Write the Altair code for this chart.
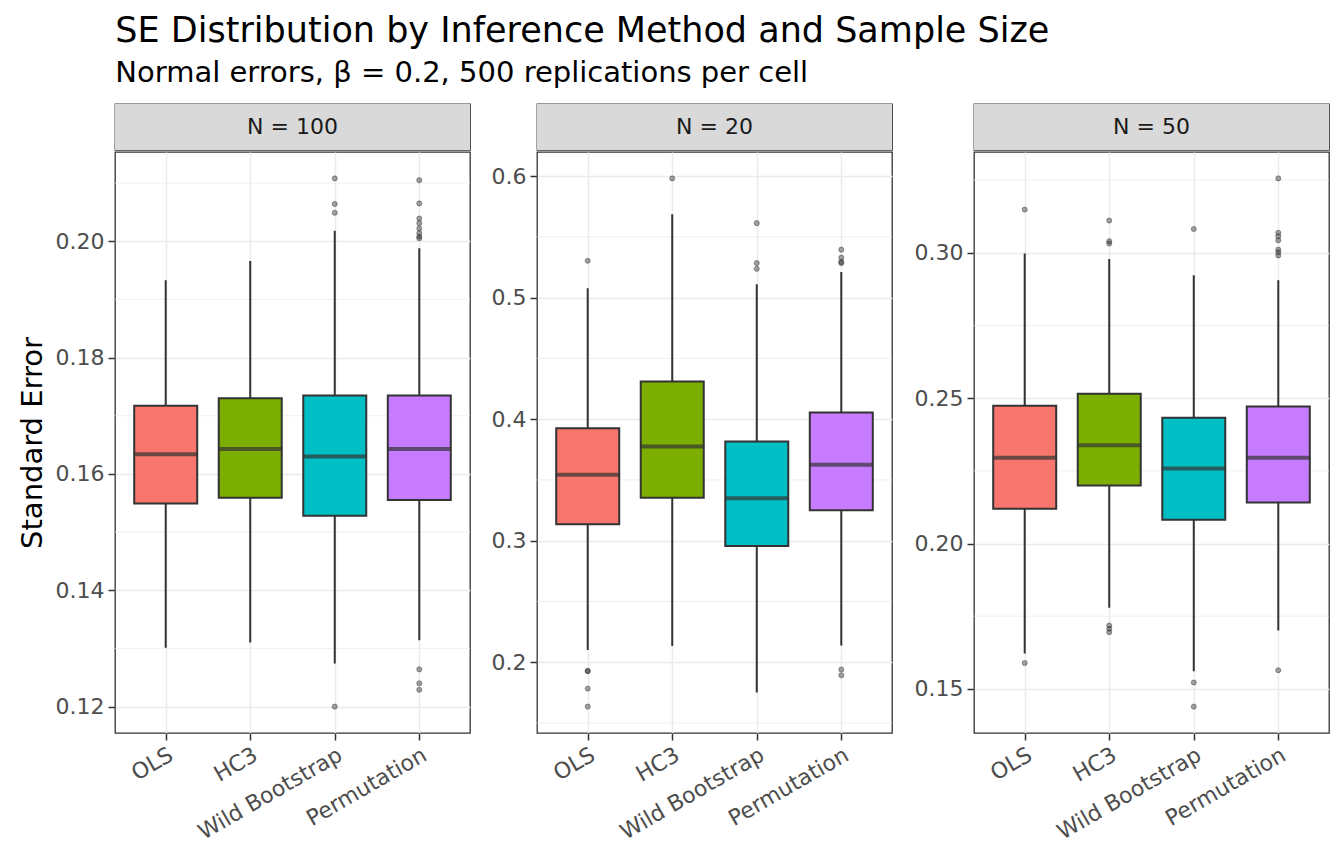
import altair as alt
import pandas as pd

FONT = "DejaVu Sans"

methods = ["OLS", "HC3", "Wild Bootstrap", "Permutation"]
fill_colors = ["#F8766D", "#7CAE00", "#00BFC4", "#C77CFF"]
facet_labels = ["N = 100", "N = 20", "N = 50"]

# ---- N = 100 ----
n100_lower = [0.1301, 0.1310, 0.1274, 0.1314]
n100_q1 = [0.1549, 0.1559, 0.1528, 0.1555]
n100_median = [0.1634, 0.1643, 0.1630, 0.1643]
n100_q3 = [0.1717, 0.1730, 0.1735, 0.1735]
n100_upper = [0.1933, 0.1966, 0.2018, 0.1988]
n100_out_ols = []
n100_out_hc3 = []
n100_out_wild = [0.2108, 0.2064, 0.2049, 0.1200]
n100_out_perm = [0.2105, 0.2065, 0.2039, 0.2031, 0.2022, 0.2014, 0.2008, 0.2005,
                 0.1264, 0.1240, 0.1229]
n100_ticks = [0.12, 0.14, 0.16, 0.18, 0.20]
n100_minor = [0.13, 0.15, 0.17, 0.19, 0.21]

# ---- N = 20 ----
n20_lower = [0.2101, 0.2134, 0.1751, 0.2137]
n20_q1 = [0.3136, 0.3354, 0.2957, 0.3250]
n20_median = [0.3542, 0.3775, 0.3350, 0.3624]
n20_q3 = [0.3926, 0.4310, 0.3817, 0.4055]
n20_upper = [0.5078, 0.5687, 0.5111, 0.5210]
n20_out_ols = [0.5303, 0.1926, 0.1930, 0.1783, 0.1635]
n20_out_hc3 = [0.5981]
n20_out_wild = [0.5613, 0.5284, 0.5237]
n20_out_perm = [0.5395, 0.5329, 0.5294, 0.5284, 0.1940, 0.1893]
n20_ticks = [0.2, 0.3, 0.4, 0.5, 0.6]
n20_minor = [0.15, 0.25, 0.35, 0.45, 0.55]

# ---- N = 50 ----
n50_lower = [0.1622, 0.1779, 0.1561, 0.1701]
n50_q1 = [0.2120, 0.2200, 0.2082, 0.2141]
n50_median = [0.2295, 0.2338, 0.2258, 0.2295]
n50_q3 = [0.2474, 0.2515, 0.2433, 0.2471]
n50_upper = [0.2998, 0.2979, 0.2923, 0.2906]
n50_out_ols = [0.3149, 0.1589]
n50_out_hc3 = [0.3111, 0.3040, 0.3032, 0.1718, 0.1707, 0.1695]
n50_out_wild = [0.3082, 0.1522, 0.1439]
n50_out_perm = [0.3256, 0.3069, 0.3057, 0.3043, 0.3011, 0.3002, 0.2991, 0.1564]
n50_ticks = [0.15, 0.20, 0.25, 0.30]
n50_minor = [0.175, 0.225, 0.275, 0.325]

W, H, SH = 355, 581, 46
BOXW = 63


def make_column(label, lower, q1, med, q3, upper, outs, ticks, minor, fmt, show_title):
    stats = pd.DataFrame({"method": methods, "lower": lower, "q1": q1,
                          "median": med, "q3": q3, "upper": upper})
    pts = pd.DataFrame([(m, v) for m, vals in zip(methods, outs) for v in vals],
                       columns=["method", "se"])
    lo = min(min(lower), pts["se"].min() if len(pts) else 9)
    hi = max(max(upper), pts["se"].max() if len(pts) else -9)
    pad = 0.05 * (hi - lo)
    yscale = alt.Scale(domain=[lo - pad, hi + pad], nice=False, zero=False)
    yaxis = alt.Axis(values=ticks, format=fmt, title="Standard Error" if show_title else None,
                     grid=True)
    xenc = alt.X("method:N", sort=methods, scale=alt.Scale(type="point", padding=0.6),
                 axis=alt.Axis(title=None, labelAngle=330, labelAlign="right",
                               labelBaseline="top", grid=True))

    minor_layer = alt.Chart(pd.DataFrame({"v": minor})).mark_rule(
        color="#EBEBEB", strokeWidth=0.8).encode(y=alt.Y("v:Q", scale=yscale, axis=yaxis))
    whisk = alt.Chart(stats).mark_rule(color="#333333", strokeWidth=2).encode(
        x=xenc, y=alt.Y("lower:Q", scale=yscale, axis=yaxis), y2="upper:Q")
    box = alt.Chart(stats).mark_bar(size=BOXW, stroke="#333333", strokeWidth=2).encode(
        x=xenc, y=alt.Y("q1:Q", scale=yscale, axis=yaxis), y2="q3:Q",
        color=alt.Color("method:N", scale=alt.Scale(domain=methods, range=fill_colors),
                        legend=None))
    mid = alt.Chart(stats).mark_tick(color="#333333", thickness=4, size=BOXW + 1).encode(
        x=xenc, y=alt.Y("median:Q", scale=yscale, axis=yaxis))
    dots = alt.Chart(pts).mark_point(filled=True, fill="#333333", fillOpacity=0.45,
                                     stroke="#333333", strokeOpacity=0.45, strokeWidth=1,
                                     size=26).encode(
        x=xenc, y=alt.Y("se:Q", scale=yscale, axis=yaxis))
    panel = alt.layer(minor_layer, whisk, box, mid, dots).properties(width=W, height=H)

    sdf = pd.DataFrame({"lab": [label]})
    strip_bg = alt.Chart(sdf).mark_rect(fill="#D9D9D9").encode(
        x=alt.value(0), x2=alt.value(W), y=alt.value(0), y2=alt.value(SH))
    strip_tx = alt.Chart(sdf).mark_text(font=FONT, fontSize=22, color="#1A1A1A").encode(
        x=alt.value(W / 2), y=alt.value(SH / 2), text="lab:N")
    strip = alt.layer(strip_bg, strip_tx).properties(width=W, height=SH)
    return alt.vconcat(strip, panel, spacing=0)


c1 = make_column(facet_labels[0], n100_lower, n100_q1, n100_median, n100_q3, n100_upper,
                 [n100_out_ols, n100_out_hc3, n100_out_wild, n100_out_perm],
                 n100_ticks, n100_minor, ".2f", True)
c2 = make_column(facet_labels[1], n20_lower, n20_q1, n20_median, n20_q3, n20_upper,
                 [n20_out_ols, n20_out_hc3, n20_out_wild, n20_out_perm],
                 n20_ticks, n20_minor, ".1f", False)
c3 = make_column(facet_labels[2], n50_lower, n50_q1, n50_median, n50_q3, n50_upper,
                 [n50_out_ols, n50_out_hc3, n50_out_wild, n50_out_perm],
                 n50_ticks, n50_minor, ".2f", False)

chart = alt.hconcat(alt.hconcat(c1, c2, spacing=18), c3, spacing=19).properties(
    title=alt.TitleParams(
        text="SE Distribution by Inference Method and Sample Size",
        subtitle="Normal errors, β = 0.2, 500 replications per cell",
        anchor="start", font=FONT, fontSize=35, fontWeight="normal", color="black",
        subtitleFont=FONT, subtitleFontSize=29, subtitleColor="black",
        subtitlePadding=10, offset=15, dx=98),
    padding={"left": 17, "top": 14, "right": 8, "bottom": 5},
    background="white",
).configure_view(stroke="#333333", strokeWidth=1.3).configure_axis(
    domain=False, tickColor="#333333", tickWidth=1.5, tickSize=7,
    labelColor="#4D4D4D", labelFont=FONT, labelFontSize=22, labelPadding=4,
    titleFont=FONT, titleFontSize=29, titleFontWeight="normal", titleColor="black",
    titlePadding=8, gridColor="#EBEBEB", gridWidth=1.5,
)

chart.save("out.html", embed_options={"renderer": "svg", "actions": False})
